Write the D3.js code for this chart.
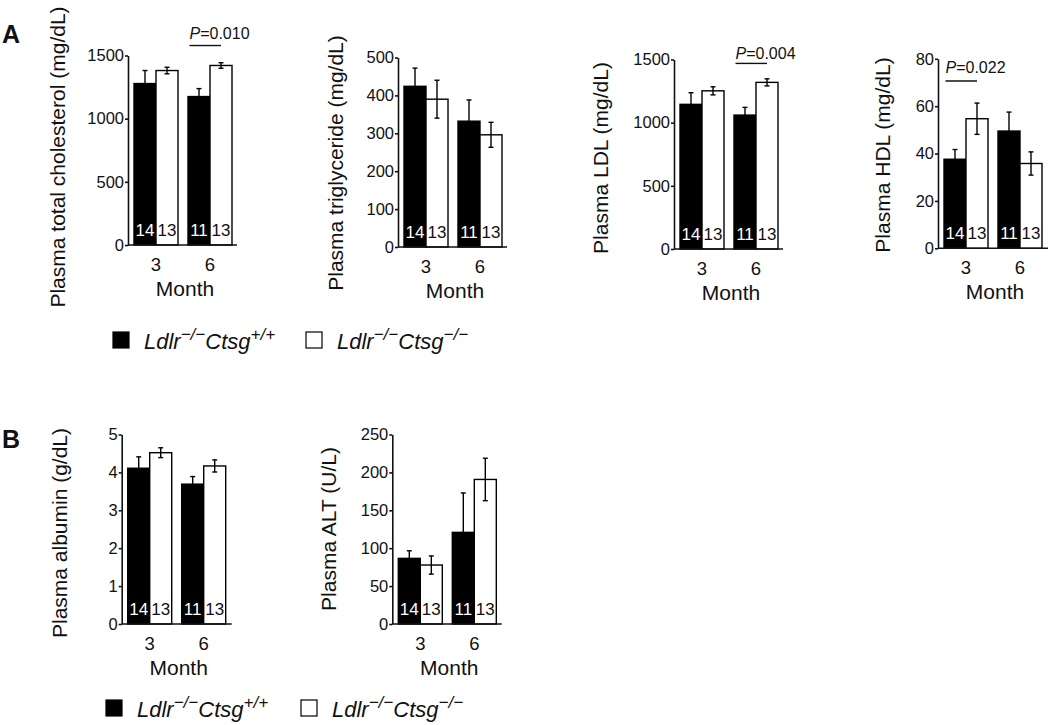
<!DOCTYPE html>
<html>
<head>
<meta charset="utf-8">
<script src="https://cdn.jsdelivr.net/npm/d3@7"></script>
<style>
  html, body { margin: 0; padding: 0; background: #fff; }
  svg { display: block; }
  text { font-family: "Liberation Sans", Arial, Helvetica, sans-serif; fill: #111; }
</style>
</head>
<body>
<svg id="chart" width="1050" height="725"></svg>
<script>
// ---------------- DATA ----------------
const months = ["3", "6"];
const seriesKeys = ["wt", "ko"];
const nWT = [14, 11];
const nKO = [13, 13];

const cholTicks = [0, 500, 1000, 1500];
const cholWT = [1278, 1175];
const cholWTerr = [103, 63];
const cholKO = [1381, 1421];
const cholKOerr = [26, 22];

const tgTicks = [0, 100, 200, 300, 400, 500];
const tgWT = [424, 332];
const tgWTerr = [48, 56];
const tgKO = [390, 296];
const tgKOerr = [50, 33];

const ldlTicks = [0, 500, 1000, 1500];
const ldlWT = [1145, 1060];
const ldlWTerr = [92, 61];
const ldlKO = [1252, 1319];
const ldlKOerr = [32, 28];

const hdlTicks = [0, 20, 40, 60, 80];
const hdlWT = [37.6, 49.5];
const hdlWTerr = [4.1, 8.0];
const hdlKO = [54.7, 35.8];
const hdlKOerr = [6.6, 4.9];

const albTicks = [0, 1, 2, 3, 4, 5];
const albWT = [4.11, 3.69];
const albWTerr = [0.30, 0.20];
const albKO = [4.52, 4.17];
const albKOerr = [0.13, 0.16];

const altTicks = [0, 50, 100, 150, 200, 250];
const altWT = [86.6, 120.9];
const altWTerr = [10, 52];
const altKO = [77.8, 190.7];
const altKOerr = [12, 28];

const pValues = [
  { panel: "chol", month: "6", label: "0.010" },
  { panel: "ldl", month: "6", label: "0.004" },
  { panel: "hdl", month: "3", label: "0.022" }
];

const legendSup = ["+/+", "\u2212/\u2212"];

// ---------------- LAYOUT ----------------
const panels = [
  { id: "chol", title: "Plasma total cholesterol (mg/dL)", ticks: cholTicks, wt: cholWT, wtErr: cholWTerr, ko: cholKO, koErr: cholKOerr,
    axisX: 128, y0: 245, xEnd: 237, labX: 65, labY: 157, pLine: 1579, pText: 1630 },
  { id: "tg", title: "Plasma triglyceride (mg/dL)", ticks: tgTicks, wt: tgWT, wtErr: tgWTerr, ko: tgKO, koErr: tgKOerr,
    axisX: 398, y0: 247, xEnd: 507, labX: 343, labY: 163 },
  { id: "ldl", title: "Plasma LDL (mg/dL)", ticks: ldlTicks, wt: ldlWT, wtErr: ldlWTerr, ko: ldlKO, koErr: ldlKOerr,
    axisX: 674, y0: 249, xEnd: 783, labX: 608, labY: 158, pLine: 1469, pText: 1501 },
  { id: "hdl", title: "Plasma HDL (mg/dL)", ticks: hdlTicks, wt: hdlWT, wtErr: hdlWTerr, ko: hdlKO, koErr: hdlKOerr,
    axisX: 938, y0: 248.3, xEnd: 1048, labX: 890, labY: 155, pLine: 70.6, pText: 74.2 },
  { id: "alb", title: "Plasma albumin (g/dL)", ticks: albTicks, wt: albWT, wtErr: albWTerr, ko: albKO, koErr: albKOerr,
    axisX: 121.7, y0: 624, xEnd: 231.7, labX: 67, labY: 533 },
  { id: "alt", title: "Plasma ALT (U/L)", ticks: altTicks, wt: altWT, wtErr: altWTerr, ko: altKO, koErr: altKOerr,
    axisX: 392.3, y0: 624, xEnd: 501.7, labX: 335.5, labY: 529 }
];
const plotH = 189.5;
const ink = "#111";

const svg = d3.select("#chart");

panels.forEach(p => {
  const g = svg.append("g");
  const vmax = p.ticks[p.ticks.length - 1];
  const y = d3.scaleLinear().domain([0, vmax]).range([p.y0, p.y0 - plotH]);
  const x = d3.scaleBand().domain(months)
    .range([p.axisX + 6, p.axisX + 104]).paddingInner(0.185).paddingOuter(0);
  const xs = d3.scaleBand().domain(seriesKeys).range([0, x.bandwidth()]);

  const rows = months.map((m, i) => ({
    m,
    vals: [
      { k: "wt", v: p.wt[i], e: p.wtErr[i], n: nWT[i] },
      { k: "ko", v: p.ko[i], e: p.koErr[i], n: nKO[i] }
    ]
  }));

  // bars
  rows.forEach(r => {
    r.vals.forEach(d => {
      const bx = x(r.m) + xs(d.k);
      g.append("rect")
        .attr("x", bx).attr("y", y(d.v))
        .attr("width", xs.bandwidth()).attr("height", y(0) - y(d.v))
        .attr("fill", d.k === "wt" ? "#000" : "#fff")
        .attr("stroke", "#000").attr("stroke-width", 1.4);
    });
  });
  // error bars
  rows.forEach(r => {
    r.vals.forEach(d => {
      const cx = x(r.m) + xs(d.k) + xs.bandwidth() / 2;
      const eg = g.append("g").attr("stroke", "#000").attr("stroke-width", 1.4);
      eg.append("line").attr("x1", cx).attr("x2", cx).attr("y1", y(d.v - d.e)).attr("y2", y(d.v + d.e));
      eg.append("line").attr("x1", cx - 2.5).attr("x2", cx + 2.5).attr("y1", y(d.v + d.e)).attr("y2", y(d.v + d.e));
      eg.append("line").attr("x1", cx - 2.5).attr("x2", cx + 2.5).attr("y1", y(d.v - d.e)).attr("y2", y(d.v - d.e));
    });
  });
  // count labels
  rows.forEach(r => {
    r.vals.forEach(d => {
      const cx = x(r.m) + xs(d.k) + xs.bandwidth() / 2;
      g.append("text")
        .attr("x", cx).attr("y", p.y0 - 9)
        .attr("text-anchor", "middle")
        .style("font-size", "17px")
        .style("fill", d.k === "wt" ? "#fff" : "#111")
        .text(d.n);
    });
  });

  // y axis
  const ya = g.append("g").attr("transform", `translate(${p.axisX},0)`)
    .call(d3.axisLeft(y).tickValues(p.ticks).tickFormat(d => String(d)).tickSize(3).tickSizeOuter(0).tickPadding(1));
  ya.selectAll("path, line").attr("stroke", ink).attr("stroke-width", 1.6);
  ya.selectAll("text").style("font-size", "16.5px").style("font-family", "Liberation Sans, Arial, sans-serif").attr("fill", ink);

  // x axis
  const xa = g.append("g").attr("transform", `translate(0,${p.y0})`)
    .call(d3.axisBottom(x).tickSize(0).tickPadding(13));
  xa.select(".domain").remove();
  xa.selectAll("text").style("font-size", "18.5px").style("font-family", "Liberation Sans, Arial, sans-serif").attr("fill", ink);
  g.append("line").attr("x1", p.axisX).attr("x2", p.xEnd).attr("y1", p.y0).attr("y2", p.y0)
    .attr("stroke", ink).attr("stroke-width", 1.6);

  g.append("text").attr("x", p.axisX + 57).attr("y", p.y0 + 51)
    .attr("text-anchor", "middle").style("font-size", "21px").text("Month");

  g.append("text")
    .attr("transform", `translate(${p.labX},${p.labY}) rotate(-90)`)
    .attr("text-anchor", "middle").style("font-size", "21px").text(p.title);

  // p-values
  pValues.filter(a => a.panel === p.id).forEach(a => {
    const x1 = x(a.month) + xs("wt") + 1.5;
    const x2 = x(a.month) + xs("ko") + xs.bandwidth() / 2;
    g.append("line").attr("x1", x1).attr("x2", x2).attr("y1", y(p.pLine)).attr("y2", y(p.pLine))
      .attr("stroke", ink).attr("stroke-width", 1.4);
    const t = g.append("text").attr("x", x1).attr("y", y(p.pText)).style("font-size", "16px");
    t.append("tspan").style("font-style", "italic").text("P");
    t.append("tspan").text("=" + a.label);
  });
});

// panel letters
svg.append("text").attr("x", 2).attr("y", 43).style("font-size", "25px").style("font-weight", "bold").text("A");
svg.append("text").attr("x", 2).attr("y", 448).style("font-size", "25px").style("font-weight", "bold").text("B");

// legends
function legendItem(x, y, fill, sup) {
  const g = svg.append("g");
  g.append("rect").attr("x", x).attr("y", y - 17).attr("width", 16).attr("height", 16)
    .attr("fill", fill).attr("stroke", "#000").attr("stroke-width", 1.2);
  const t = g.append("text").attr("x", x + 31).attr("y", y)
    .style("font-size", "22px").style("font-style", "italic");
  t.append("tspan").text("Ldlr");
  t.append("tspan").attr("dy", -9).style("font-size", "17px").text("\u2212/\u2212");
  t.append("tspan").attr("dy", 9).text("Ctsg");
  t.append("tspan").attr("dy", -9).style("font-size", "17px").text(sup);
}
legendItem(113, 349, "#000", legendSup[0]);
legendItem(306, 349, "#fff", legendSup[1]);
legendItem(106, 717, "#000", legendSup[0]);
legendItem(301, 717, "#fff", legendSup[1]);
</script>
</body>
</html>
